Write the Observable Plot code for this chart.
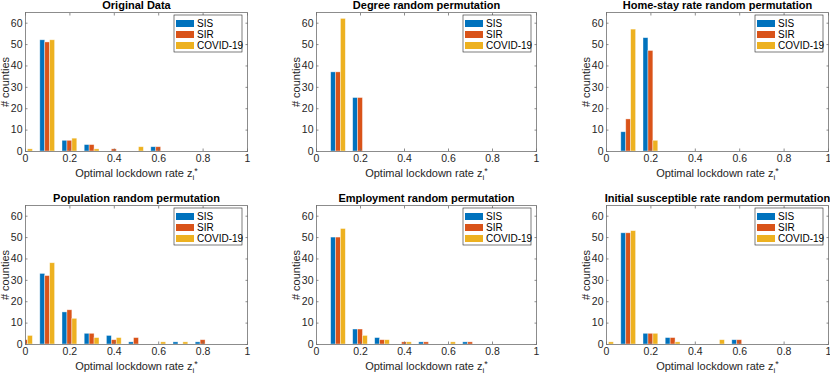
<!DOCTYPE html>
<html>
<head>
<meta charset="utf-8">
<script src="https://cdn.jsdelivr.net/npm/d3@7"></script>
<script src="https://cdn.jsdelivr.net/npm/@observablehq/plot@0.6"></script>
<style>
  html, body { margin: 0; padding: 0; background: #fff; }
  #chart { position: relative; width: 830px; height: 376px; overflow: hidden; font-family: "Liberation Sans", Arial, Helvetica, sans-serif; }
  #chart svg { position: absolute; overflow: visible; }
</style>
</head>
<body>
<div id="chart"></div>
<script>
// ---- data ----
const bins = [0, 0.1, 0.2, 0.3, 0.4, 0.5, 0.6, 0.7, 0.8, 0.9, 1.0];
const seriesNames = ["SIS", "SIR", "COVID-19"];
const seriesColors = ["#0072BD", "#D95319", "#EDB120"];
const titles = [
  "Original Data",
  "Degree random permutation",
  "Home-stay rate random permutation",
  "Population random permutation",
  "Employment random permutation",
  "Initial susceptible rate random permutation"
];
const xTicks = [0, 0.2, 0.4, 0.6, 0.8, 1];
const yTicks = [0, 10, 20, 30, 40, 50, 60];

const originalSIS   = [0, 52, 5, 3, 0, 0, 2, 0, 0, 0, 0];
const originalSIR   = [0, 51, 5, 3, 1, 0, 2, 0, 0, 0, 0];
const originalCOVID = [1, 52, 6, 1, 0, 2, 0, 0, 0, 0, 0];

const degreeSIS   = [0, 37, 25, 0, 0, 0, 0, 0, 0, 0, 0];
const degreeSIR   = [0, 37, 25, 0, 0, 0, 0, 0, 0, 0, 0];
const degreeCOVID = [0, 62, 0, 0, 0, 0, 0, 0, 0, 0, 0];

const homeSIS   = [0, 9, 53, 0, 0, 0, 0, 0, 0, 0, 0];
const homeSIR   = [0, 15, 47, 0, 0, 0, 0, 0, 0, 0, 0];
const homeCOVID = [0, 57, 5, 0, 0, 0, 0, 0, 0, 0, 0];

const popSIS   = [0, 33, 15, 5, 4, 1, 0, 1, 1, 0, 0];
const popSIR   = [2, 32, 16, 5, 2, 3, 0, 0, 2, 0, 0];
const popCOVID = [4, 38, 12, 3, 3, 0, 1, 1, 0, 0, 0];

const empSIS   = [0, 50, 7, 3, 0, 1, 0, 1, 0, 0, 0];
const empSIR   = [0, 50, 7, 2, 1, 1, 0, 1, 0, 0, 0];
const empCOVID = [0, 54, 4, 2, 1, 0, 1, 0, 0, 0, 0];

const initSIS   = [0, 52, 5, 3, 0, 0, 2, 0, 0, 0, 0];
const initSIR   = [0, 52, 5, 3, 0, 0, 2, 0, 0, 0, 0];
const initCOVID = [1, 53, 5, 1, 0, 2, 0, 0, 0, 0, 0];

const panelSeries = [
  [originalSIS, originalSIR, originalCOVID],
  [degreeSIS, degreeSIR, degreeCOVID],
  [homeSIS, homeSIR, homeCOVID],
  [popSIS, popSIR, popCOVID],
  [empSIS, empSIR, empCOVID],
  [initSIS, initSIR, initCOVID]
];

// ---- layout ----
const axisLeft = [25, 316, 606];
const axisWidth = [222, 220, 222];
const axisTop = [12, 205];
const axisHeight = 139;
const mL = 34, mR = 2, mT = 14, mB = 32;
const groupStep = 0.0222;   // offset between series within a bin
const barW = 0.0222;
const axisColor = "#707070";

const container = document.getElementById("chart");

panelSeries.forEach((series, p) => {
  const col = p % 3, row = Math.floor(p / 3);
  const rows = [];
  series.forEach((vals, s) => {
    vals.forEach((v, i) => {
      rows.push({bin: bins[i], series: seriesNames[s], idx: s, value: v});
    });
  });
  const data = rows.filter(d => d.value > 0);
  const aw = axisWidth[col];
  const W = mL + aw + mR, H = mT + axisHeight + mB;

  const svg = Plot.plot({
    width: W,
    height: H,
    marginLeft: mL, marginRight: mR, marginTop: mT, marginBottom: mB,
    style: {fontFamily: "'Liberation Sans', Arial, Helvetica, sans-serif", fontSize: "10px", color: "#262626", background: "transparent", overflow: "visible"},
    x: {domain: [0, 1], axis: null},
    y: {domain: [0, 65], axis: null},
    color: {domain: seriesNames, range: seriesColors},
    marks: [
      Plot.rectY(data, {
        x1: d => d.bin + (d.idx - 1) * groupStep - barW / 2,
        x2: d => d.bin + (d.idx - 1) * groupStep + barW / 2,
        y: "value",
        fill: "series",
        stroke: "white",
        strokeOpacity: 0.55,
        strokeWidth: 0.7,
        clip: true
      }),
      // tick labels
      Plot.axisX({anchor: "bottom", ticks: xTicks, tickSize: 0, tickPadding: 3, tickFormat: d => String(d), label: null, fontSize: 10.5, fill: "#262626"}),
      Plot.axisY({anchor: "left", ticks: yTicks, tickSize: 0, tickPadding: 3, label: null, fontSize: 10.5, fill: "#262626"}),
      // inward ticks on all four sides
      Plot.axisX({anchor: "bottom", ticks: xTicks, tickSize: 2.5, dy: -2.5, fill: "none", stroke: axisColor, strokeWidth: 0.8, label: null}),
      Plot.axisX({anchor: "top", ticks: xTicks, tickSize: 2.5, dy: 2.5, fill: "none", stroke: axisColor, strokeWidth: 0.8, label: null}),
      Plot.axisY({anchor: "left", ticks: yTicks, tickSize: 2.5, dx: 2.5, fill: "none", stroke: axisColor, strokeWidth: 0.8, label: null}),
      Plot.axisY({anchor: "right", ticks: yTicks, tickSize: 2.5, dx: -2.5, fill: "none", stroke: axisColor, strokeWidth: 0.8, label: null}),
      Plot.frame({stroke: axisColor, strokeWidth: 0.8}),
      // title
      Plot.text([titles[p]], {frameAnchor: "top", lineAnchor: "middle", dy: -7, fontWeight: "bold", fontSize: 11, fill: "#000"}),
      // axis labels
      Plot.text(["# counties"], {frameAnchor: "left", textAnchor: "middle", lineAnchor: "middle", dx: -20, rotate: -90, fontSize: 11, fill: "#262626"}),
      Plot.text(["Optimal lockdown rate z"], {frameAnchor: "bottom", lineAnchor: "middle", dy: 22, fontSize: 11, fill: "#262626"})
    ]
  });

  svg.style.left = (axisLeft[col] - mL) + "px";
  svg.style.top = (axisTop[row] - mT) + "px";
  container.appendChild(svg);

  const s = d3.select(svg);
  // subscript / superscript for the x label
  s.selectAll("text").each(function() {
    if (this.textContent === "Optimal lockdown rate z") {
      const t = d3.select(this);
      t.append("tspan").attr("dy", "3").attr("font-size", 8).text("i");
      t.append("tspan").attr("dy", "-6").attr("font-size", 9).text("*");
    }
  });

  // legend (northeast, inside the axes)
  const lw = 68, lh = 37;
  const lx = mL + aw - 5 - lw, ly = mT + 3;
  const g = s.append("g").attr("transform", `translate(${lx},${ly})`).attr("text-anchor", "start");
  g.append("rect").attr("width", lw).attr("height", lh).attr("fill", "white").attr("stroke", "#262626").attr("stroke-width", 0.6);
  seriesNames.forEach((name, i) => {
    const cy = 8.5 + i * 11;
    g.append("rect").attr("x", 2).attr("y", cy - 3.5).attr("width", 18).attr("height", 7).attr("fill", seriesColors[i]);
    g.append("text").attr("x", 23).attr("y", cy).attr("dy", "0.35em").attr("font-size", 10).attr("fill", "#000").attr("text-anchor", "start").text(name);
  });
});
</script>
</body>
</html>
